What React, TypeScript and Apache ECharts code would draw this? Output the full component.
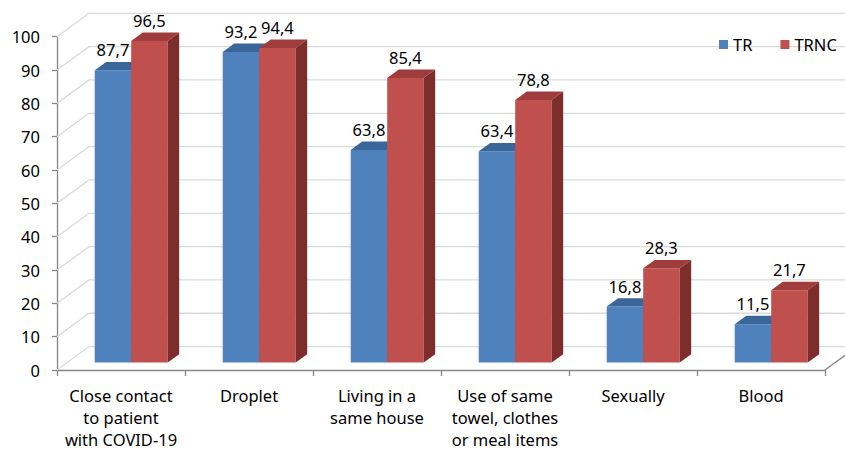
import React, { useEffect, useRef } from "react";
import * as echarts from "echarts";

const categories = [
  "Close contact\nto patient\nwith COVID-19",
  "Droplet",
  "Living in a\nsame house",
  "Use of same\ntowel, clothes\nor meal items",
  "Sexually",
  "Blood",
];
const trValues = [87.7, 93.2, 63.8, 63.4, 16.8, 11.5];
const trncValues = [96.5, 94.4, 85.4, 78.8, 28.3, 21.7];
const yTicks = [0, 10, 20, 30, 40, 50, 60, 70, 80, 90, 100];

const FONT = "'Noto Sans', 'Open Sans', sans-serif";
const AXIS = "#868686";
const GRIDC = "#d9d9d9";
// floor depth (perspective) offsets
const DX = 32;
const DY = -23.4;
// bar front plane offset and bar depth
const FX = 10.2;
const FY = -7.4;
const BDX = 11.5;
const BDY = -8.4;

const palette = [
  { front: "#4F81BD", top: "#3B669A", side: "#335884" },
  { front: "#C0504D", top: "#9E3D3B", side: "#7D2E2C" },
];

function makeBarRender(idx: number) {
  return (params: any, api: any) => {
    const cat = api.value(0);
    const val = api.value(1);
    const top = api.coord([cat, val]);
    const base = api.coord([cat, 0]);
    const catW = api.size([1, 0])[0];
    const w = catW * 0.285;
    const x0 = top[0] + FX + (idx === 0 ? -w : 0);
    const yt = top[1] + FY;
    const yb = base[1] + FY;
    const c = palette[idx];
    return {
      type: "group",
      children: [
        {
          type: "rect",
          shape: { x: x0, y: yt, width: w, height: yb - yt },
          style: { fill: c.front },
        },
        {
          type: "polygon",
          shape: {
            points: [
              [x0, yt],
              [x0 + w, yt],
              [x0 + w + BDX, yt + BDY],
              [x0 + BDX, yt + BDY],
            ],
          },
          style: { fill: c.top },
        },
        {
          type: "polygon",
          shape: {
            points: [
              [x0 + w, yt],
              [x0 + w + BDX, yt + BDY],
              [x0 + w + BDX, yb + BDY],
              [x0 + w, yb],
            ],
          },
          style: { fill: c.side },
        },
        {
          type: "text",
          style: {
            text: val.toFixed(1).replace(".", ","),
            x: x0 + w / 2,
            y: yt - 20.5,
            align: "center",
            verticalAlign: "middle",
            fontSize: 16.5,
            fontFamily: FONT,
            fill: "#000",
          },
        },
      ],
    };
  };
}

export default function App() {
  const ref = useRef<HTMLDivElement>(null);
  useEffect(() => {
    if (!ref.current) return;
    const chart = echarts.init(ref.current, undefined, { renderer: "svg" });
    const option: any = {
      animation: false,
      backgroundColor: "#fff",
      grid: { left: 57, right: 20, top: 36.7, bottom: 78.3, containLabel: false },
      legend: {
        data: ["TR", "TRNC"],
        orient: "horizontal",
        left: 719,
        top: 36,
        width: 200,
        padding: 0,
        icon: "rect",
        itemWidth: 9,
        itemHeight: 9,
        itemGap: 28,
        textStyle: { fontSize: 16.5, fontFamily: FONT, color: "#000" },
      },
      xAxis: {
        type: "category",
        data: categories,
        axisLine: { lineStyle: { color: AXIS, width: 1.3 } },
        axisTick: { show: true, length: 6, lineStyle: { color: AXIS, width: 1.3 } },
        axisLabel: {
          interval: 0,
          margin: 14,
          fontSize: 16.5,
          lineHeight: 22,
          fontFamily: FONT,
          color: "#000",
        },
        splitLine: { show: false },
      },
      yAxis: {
        type: "value",
        min: 0,
        max: 100,
        interval: 10,
        axisLine: { show: true, lineStyle: { color: AXIS, width: 1.3 } },
        axisTick: { show: true, length: 5, lineStyle: { color: AXIS, width: 1.3 } },
        axisLabel: { margin: 17, fontSize: 16.5, fontFamily: FONT, color: "#000" },
        splitLine: { show: false },
      },
      series: [
        {
          type: "custom",
          name: "grid",
          silent: true,
          clip: false,
          z: 1,
          data: yTicks.map((v) => [0, v]),
          renderItem: (params: any, api: any) => {
            const v = api.value(1);
            const y = api.coord([0, v])[1];
            const cs = params.coordSys;
            const x0 = cs.x;
            const children: any[] = [
              {
                type: "polyline",
                shape: {
                  points: [
                    [x0, y],
                    [x0 + DX, y + DY],
                    [x0 + cs.width + DX + 40, y + DY],
                  ],
                },
                style: { stroke: GRIDC, lineWidth: 1.3, fill: "none" },
              },
            ];
            if (v === 0) {
              children.push({
                type: "line",
                shape: {
                  x1: x0 + cs.width,
                  y1: y,
                  x2: x0 + cs.width + DX,
                  y2: y + DY,
                },
                style: { stroke: AXIS, lineWidth: 1.3 },
              });
            }
            return { type: "group", children };
          },
        },
        {
          type: "custom",
          name: "TR",
          clip: false,
          z: 3,
          itemStyle: { color: palette[0].front },
          data: trValues.map((v, i) => [i, v]),
          renderItem: makeBarRender(0),
        },
        {
          type: "custom",
          name: "TRNC",
          clip: false,
          z: 4,
          itemStyle: { color: palette[1].front },
          data: trncValues.map((v, i) => [i, v]),
          renderItem: makeBarRender(1),
        },
      ],
    };
    chart.setOption(option);
    return () => chart.dispose();
  }, []);
  return (
    <div
      ref={ref}
      style={{ position: "fixed", left: 0, top: 0, width: 845, height: 450 }}
    />
  );
}
